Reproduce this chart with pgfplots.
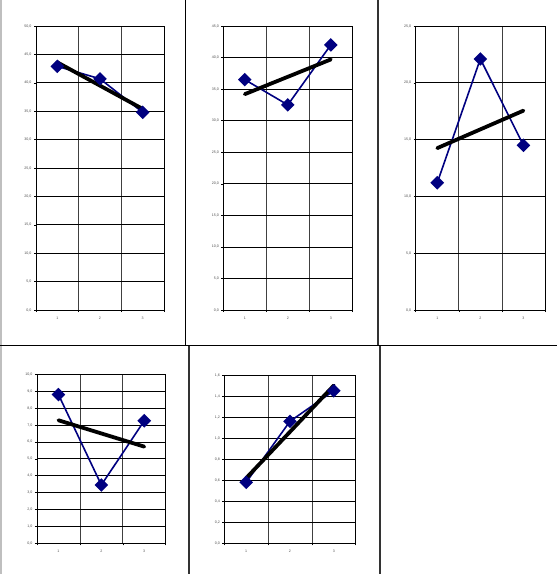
\documentclass[border=0pt]{standalone}
\usepackage{fontspec}
\setmainfont{Liberation Sans}
\usepackage{pgfplots}
\pgfplotsset{compat=1.18}

\definecolor{serie}{RGB}{0,0,128}

\pgfplotsset{
  panel/.style={
    anchor=south west,
    scale only axis,
    xmin=0.5, xmax=3.5,
    ymin=0,
    xtick={1,2,3},
    major x tick style={draw=none},
    minor xtick={0.5,1.5,2.5,3.5},
    xminorgrids=true,
    ymajorgrids=true,
    tick pos=left,
    tick align=outside,
    major tick length=2pt,
    minor tick length=2pt,
    axis line style={black, line width=0.7pt},
    grid style={black, line width=0.7pt},
    minor grid style={black!75, line width=0.7pt},
    every tick/.style={black, line width=0.5pt},
    tick label style={font=\fontsize{3.6}{4}\selectfont, text=black!70},
    /pgf/number format/assume math mode=true,
    yticklabel style={/pgf/number format/.cd, fixed, fixed zerofill, precision=1, use comma},
    yticklabel shift=-1pt,
    xticklabel shift=1pt,
    clip=false,
  },
  serie/.style={color=serie, line width=1.6pt, mark=square*,
    mark size=4pt, mark options={rotate=45, solid, fill=serie}},
  trend/.style={black, line width=3.8pt, line cap=round},
}

\begin{document}
\begin{tikzpicture}
\useasboundingbox (0pt,0pt) rectangle (557pt,-574pt);

% cell borders
\draw[black!25, line width=1.5pt] (1pt,0pt) -- (1pt,-574pt);
\draw[black, line width=0.9pt] (185.5pt,0pt) -- (185.5pt,-345.5pt);
\draw[black!80, line width=2pt] (377.5pt,0pt) -- (377.5pt,-345.5pt);
\draw[black, line width=0.9pt] (0pt,-345.5pt) -- (557pt,-345.5pt);
\draw[black!80, line width=1.3pt] (189pt,-345.5pt) -- (189pt,-574pt);
\draw[black!80, line width=1.3pt] (380pt,-345.5pt) -- (380pt,-574pt);

% panel 1
\begin{axis}[panel, at={(36pt,-310pt)}, width=128pt, height=284pt,
  ymax=50, ytick distance=5]
\addplot[serie] coordinates {(1,42.9) (2,40.7) (3,34.8)};
\addplot[trend] coordinates {(1,43.6) (3,35.4)};
\end{axis}

% panel 2
\begin{axis}[panel, at={(223.3pt,-310pt)}, width=129pt, height=284pt,
  ymax=45, ytick distance=5]
\addplot[serie] coordinates {(1,36.5) (2,32.5) (3,42.0)};
\addplot[trend] coordinates {(1,34.2) (3,39.7)};
\end{axis}

% panel 3
\begin{axis}[panel, at={(415.7pt,-310pt)}, width=129.3pt, height=284pt,
  ymax=25, ytick distance=5]
\addplot[serie] coordinates {(1,11.2) (2,22.1) (3,14.5)};
\addplot[trend] coordinates {(1,14.25) (3,17.55)};
\end{axis}

% panel 4
\begin{axis}[panel, at={(37pt,-543.3pt)}, width=128.7pt, height=169pt,
  ymax=10, ytick distance=1]
\addplot[serie] coordinates {(1,8.8) (2,3.45) (3,7.25)};
\addplot[trend] coordinates {(1,7.28) (3,5.72)};
\end{axis}

% panel 5
\begin{axis}[panel, at={(224.3pt,-543.3pt)}, width=131.4pt, height=168.3pt,
  ymax=1.6, ytick distance=0.2]
\addplot[serie] coordinates {(1,0.58) (2,1.16) (3,1.45)};
\addplot[trend] coordinates {(1,0.62) (3,1.50)};
\end{axis}
\end{tikzpicture}
\end{document}
